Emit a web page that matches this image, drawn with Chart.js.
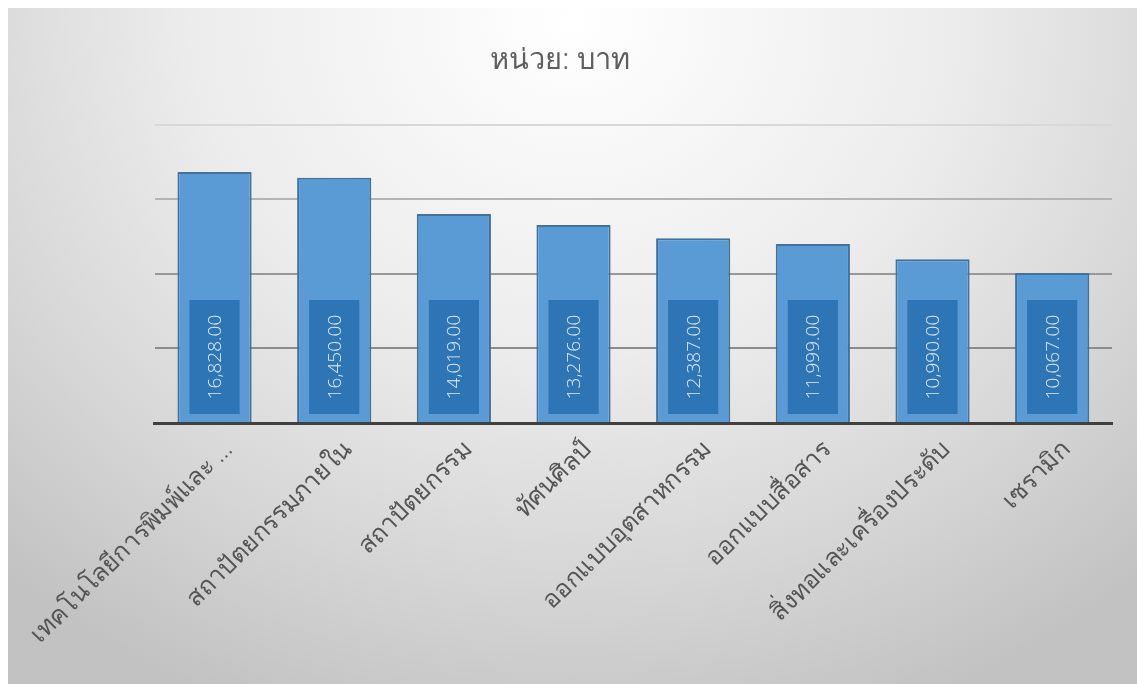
<!DOCTYPE html>
<html lang="th">
<head>
  <meta charset="UTF-8">
  <title>หน่วย: บาท</title>
  <script src="https://cdn.jsdelivr.net/npm/chart.js@4"></script>
  <style>
    html, body { margin: 0; padding: 0; background: #fff; }
    #wrap {
      position: absolute; left: 8px; top: 8px; width: 1129px; height: 676px;
      background: radial-gradient(ellipse 75% 110% at 50% 2%, #ffffff 0%, #ececec 45%, #d6d6d6 75%, #c2c2c2 100%);
    }
  </style>
</head>
<body>
  <div id="wrap"><canvas id="chart"></canvas></div>

  <script>
    // categories and values (บาท)
    const categories = [
      'เทคโนโลยีการพิมพ์และ ...',
      'สถาปัตยกรรมภายใน',
      'สถาปัตยกรรม',
      'ทัศนศิลป์',
      'ออกแบบอุตสาหกรรม',
      'ออกแบบสื่อสาร',
      'สิ่งทอและเครื่องประดับ',
      'เซรามิก'
    ];
    const values = [16828, 16450, 14019, 13276, 12387, 11999, 10990, 10067];
    const yTicks = [0, 5000, 10000, 15000, 20000];
    const titleText = 'หน่วย: บาท';

    const FONT = "'Noto Sans', 'Leelawadee UI', sans-serif";

    // boxed, rotated value labels inside each bar
    const valueBoxes = {
      id: 'valueBoxes',
      afterDatasetsDraw(chart) {
        const ctx = chart.ctx;
        const meta = chart.getDatasetMeta(0);
        meta.data.forEach(function(bar, i) {
          const p = bar.getProps(['x', 'base', 'width'], true);
          const left = p.x - p.width / 2 + 12;
          const right = p.x + p.width / 2 - 12;
          const bottom = p.base - 8;
          const top = bottom - 114;
          ctx.save();
          ctx.fillStyle = '#2e75b6';
          ctx.fillRect(left, top, right - left, bottom - top);
          ctx.translate(p.x, (top + bottom) / 2);
          ctx.rotate(-Math.PI / 2);
          ctx.fillStyle = '#dfeaf6';
          ctx.font = '300 19px "Open Sans", sans-serif';
          ctx.textAlign = 'center';
          ctx.textBaseline = 'middle';
          ctx.fillText(values[i].toLocaleString('en-US', { minimumFractionDigits: 2 }), 0, 1);
          ctx.restore();
        });
      }
    };

    new Chart(document.getElementById('chart'), {
      type: 'bar',
      data: {
        labels: categories,
        datasets: [{
          data: values,
          backgroundColor: '#5b9bd5',
          borderColor: '#41719c',
          borderWidth: 2,
          barPercentage: 0.62,
          categoryPercentage: 1
        }]
      },
      options: {
        responsive: true,
        maintainAspectRatio: false,
        animation: false,
        layout: { padding: { left: 0, right: 25, top: 0, bottom: 0 } },
        plugins: {
          legend: { display: false },
          tooltip: { enabled: false },
          title: {
            display: true,
            text: titleText,
            color: '#5f5f5f',
            font: { family: FONT, size: 29, weight: 300 },
            padding: { top: 35, bottom: 47 }
          }
        },
        scales: {
          x: {
            grid: { display: false },
            border: { display: true, color: '#404040', width: 3 },
            ticks: {
              color: '#555555',
              font: { family: FONT, size: 25, weight: 300 },
              minRotation: 45,
              maxRotation: 45,
              autoSkip: false,
              labelOffset: 14,
              padding: 4
            },
            afterFit: function(scale) { scale.height = 261; }
          },
          y: {
            min: yTicks[0],
            max: yTicks[yTicks.length - 1],
            afterBuildTicks: function(scale) {
              scale.ticks = yTicks.map(function(v) { return { value: v }; });
            },
            ticks: { display: false },
            border: { display: false },
            grid: {
              drawTicks: false,
              lineWidth: 2,
              color: function(c) {
                const v = c.tick.value;
                if (v === 20000) return '#d8d8d8';
                if (v === 15000) return '#b4b4b4';
                if (v === 10000) return '#989898';
                return '#8c8c8c';
              }
            },
            afterFit: function(scale) { scale.width = 143; }
          }
        }
      },
      plugins: [valueBoxes]
    });
  </script>
</body>
</html>
